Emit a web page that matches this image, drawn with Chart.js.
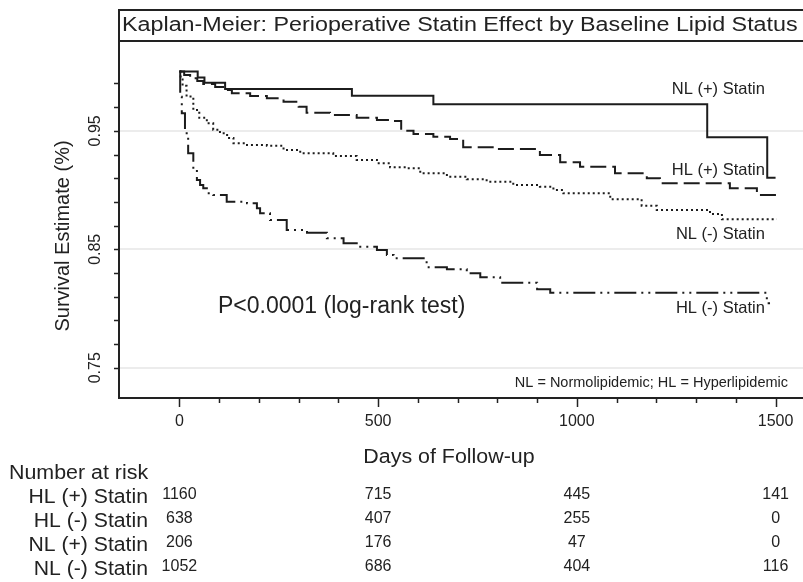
<!DOCTYPE html>
<html>
<head>
<meta charset="utf-8">
<script src="https://cdn.jsdelivr.net/npm/chart.js@4.4.1/dist/chart.umd.min.js"></script>
<style>
  html, body { margin: 0; padding: 0; background: #fff; }
  canvas { display: block; }
</style>
</head>
<body>
<canvas id="kmChart" width="803" height="582"></canvas>
<script>
// survival curves (days, survival estimate)
var daysNLpos = [0, 46, 63, 115, 434, 639, 1328, 1479, 1500];
var survNLpos = [1.0, 0.9951, 0.9906, 0.9853, 0.9796, 0.9724, 0.9445, 0.9104, 0.9104];

var daysHLpos = [0, 12, 27, 45, 60, 90, 115, 132, 178, 220, 262, 300, 320, 379, 446, 497, 530, 558, 589, 639, 681, 714, 798, 907, 958, 1008, 1096, 1176, 1209, 1385, 1453, 1505];
var survHLpos = [1.0, 0.997, 0.9943, 0.992, 0.9895, 0.987, 0.9844, 0.9816, 0.9794, 0.9774, 0.9746, 0.9703, 0.9653, 0.9633, 0.9611, 0.9591, 0.9583, 0.9501, 0.9473, 0.9450, 0.9431, 0.9361, 0.9346, 0.9296, 0.9234, 0.9197, 0.9141, 0.9099, 0.9057, 0.9015, 0.8958, 0.8958];

var daysNLneg = [0, 3, 8, 18, 35, 50, 69, 85, 102, 120, 136, 170, 220, 262, 304, 387, 446, 497, 530, 572, 606, 673, 723, 773, 840, 907, 941, 966, 1084, 1163, 1201, 1335, 1365, 1503];
var survNLneg = [1.0, 0.995, 0.988, 0.979, 0.9676, 0.961, 0.9563, 0.951, 0.9479, 0.944, 0.9395, 0.938, 0.9374, 0.9338, 0.931, 0.9287, 0.9254, 0.9226, 0.9192, 0.9184, 0.9141, 0.9113, 0.9091, 0.9071, 0.9043, 0.9028, 0.9000, 0.8973, 0.8922, 0.8868, 0.8832, 0.8798, 0.8753, 0.8753];

var daysHLneg = [0, 2, 6, 14, 22, 35, 44, 52, 60, 69, 85, 119, 170, 195, 203, 228, 270, 321, 371, 413, 455, 497, 522, 539, 622, 673, 723, 757, 807, 900, 933, 1478, 1486];
var survHLneg = [1.0, 0.9788, 0.9648, 0.9479, 0.931, 0.9169, 0.9085, 0.9043, 0.9015, 0.8973, 0.8958, 0.8902, 0.8888, 0.8846, 0.8804, 0.8747, 0.8663, 0.864, 0.8593, 0.8551, 0.8522, 0.8494, 0.8452, 0.8424, 0.8348, 0.8331, 0.8297, 0.8264, 0.8218, 0.8163, 0.8134, 0.8044, 0.8044];

// axes
var xMajorTicks = [0, 500, 1000, 1500];
var xMinorTicks = [0, 100, 200, 300, 400, 500, 600, 700, 800, 900, 1000, 1100, 1200, 1300, 1400, 1500];
var yMajorTicks = [0.75, 0.85, 0.95];
var yMinorTicks = [0.75, 0.77, 0.79, 0.81, 0.83, 0.85, 0.87, 0.89, 0.91, 0.93, 0.95, 0.97, 0.99];

// number at risk table
var riskGroups = ['HL (+) Statin', 'HL (-) Statin', 'NL (+) Statin', 'NL (-) Statin'];
var riskTimes = [0, 500, 1000, 1500];
var riskHLpos = [1160, 715, 445, 141];
var riskHLneg = [638, 407, 255, 0];
var riskNLpos = [206, 176, 47, 0];
var riskNLneg = [1052, 686, 404, 116];

var FONT = '"Liberation Sans", Arial, Helvetica, sans-serif';
var INK = '#222';
var LINE = '#1c1c1c';

function toPoints(days, surv) {
  return days.map(function(d, i) { return { x: d, y: surv[i] }; });
}

// the original text is a little wider than Arial, so stretch it sideways
function wideText(ctx, text, x, y, stretch) {
  ctx.save();
  ctx.translate(x, y);
  ctx.scale(stretch, 1);
  ctx.fillText(text, 0, 0);
  ctx.restore();
}

var overlay = {
  id: 'overlay',
  afterDraw: function(chart) {
    var ctx = chart.ctx;
    var xs = chart.scales.x, ys = chart.scales.y;
    var area = chart.chartArea;
    ctx.save();
    ctx.fillStyle = INK;
    ctx.strokeStyle = INK;

    // title box
    ctx.lineWidth = 2;
    ctx.strokeRect(area.left, 10, 720, area.top - 10);
    ctx.font = '20px ' + FONT;
    ctx.textAlign = 'left';
    ctx.textBaseline = 'middle';
    wideText(ctx, 'Kaplan-Meier: Perioperative Statin Effect by Baseline Lipid Status', area.left + 3, 25, 1.165);

    // y tick marks and labels
    ctx.lineWidth = 1.5;
    yMinorTicks.forEach(function(v) {
      var y = Math.round(ys.getPixelForValue(v)) + 0.5;
      ctx.beginPath();
      ctx.moveTo(area.left - 5, y);
      ctx.lineTo(area.left, y);
      ctx.stroke();
    });
    ctx.font = '16px ' + FONT;
    ctx.textAlign = 'center';
    ctx.textBaseline = 'middle';
    yMajorTicks.forEach(function(v) {
      var y = ys.getPixelForValue(v);
      ctx.save();
      ctx.translate(96, y);
      ctx.rotate(-Math.PI / 2);
      ctx.fillText(v.toFixed(2), 0, 0);
      ctx.restore();
    });

    // y axis title
    ctx.save();
    ctx.font = '20px ' + FONT;
    ctx.translate(63, 236);
    ctx.rotate(-Math.PI / 2);
    ctx.fillText('Survival Estimate (%)', 0, 0);
    ctx.restore();

    // x tick marks and labels
    xMinorTicks.forEach(function(d) {
      var x = Math.round(xs.getPixelForValue(d)) + 0.5;
      var len = xMajorTicks.indexOf(d) >= 0 ? 9 : 5;
      ctx.beginPath();
      ctx.moveTo(x, area.bottom);
      ctx.lineTo(x, area.bottom + len);
      ctx.stroke();
    });
    ctx.font = '16px ' + FONT;
    xMajorTicks.forEach(function(d) {
      ctx.fillText(String(d), xs.getPixelForValue(d), 422);
    });

    // x axis title
    ctx.font = '20px ' + FONT;
    wideText(ctx, 'Days of Follow-up', 449, 457, 1.07);

    // curve labels
    ctx.font = '16.5px ' + FONT;
    ctx.textAlign = 'right';
    ctx.fillText('NL (+) Statin', xs.getPixelForValue(1473), ys.getPixelForValue(0.985));
    ctx.fillText('HL (+) Statin', xs.getPixelForValue(1473), ys.getPixelForValue(0.9169));
    ctx.fillText('NL (-) Statin', xs.getPixelForValue(1473), ys.getPixelForValue(0.8629));
    ctx.fillText('HL (-) Statin', xs.getPixelForValue(1473), ys.getPixelForValue(0.8002));

    // footnote
    ctx.font = '14.5px ' + FONT;
    ctx.fillText('NL = Normolipidemic; HL = Hyperlipidemic', 788, 383);

    // p value
    ctx.font = '23px ' + FONT;
    ctx.textAlign = 'left';
    ctx.fillText('P<0.0001 (log-rank test)', 218, 307);

    // number at risk
    ctx.font = '20px ' + FONT;
    wideText(ctx, 'Number at risk', 9, 473, 1.07);
    var rowY = [497, 521, 545, 569];
    var rows = [riskHLpos, riskHLneg, riskNLpos, riskNLneg];
    ctx.textAlign = 'right';
    riskGroups.forEach(function(g, i) {
      wideText(ctx, g, 148, rowY[i], 1.06);
    });
    ctx.font = '16px ' + FONT;
    ctx.textAlign = 'center';
    rows.forEach(function(vals, i) {
      vals.forEach(function(n, j) {
        ctx.fillText(String(n), xs.getPixelForValue(riskTimes[j]), rowY[i] - 2);
      });
    });
    ctx.restore();
  }
};

function curve(label, days, surv, dash) {
  return {
    label: label,
    data: toPoints(days, surv),
    borderColor: LINE,
    backgroundColor: LINE,
    borderWidth: 2,
    borderDash: dash,
    stepped: true,
    pointRadius: 0,
    fill: false
  };
}

new Chart(document.getElementById('kmChart').getContext('2d'), {
  type: 'line',
  data: {
    datasets: [
      curve('NL (+) Statin', daysNLpos, survNLpos, []),
      curve('HL (+) Statin', daysHLpos, survHLpos, [16, 6]),
      curve('NL (-) Statin', daysNLneg, survNLneg, [2, 3]),
      curve('HL (-) Statin', daysHLneg, survHLneg, [22, 5, 2, 5, 2, 5])
    ]
  },
  options: {
    responsive: false,
    animation: false,
    devicePixelRatio: 1,
    layout: { padding: { top: 41, left: 0, right: 0, bottom: 0 } },
    plugins: {
      legend: { display: false },
      tooltip: { enabled: false },
      title: { display: false },
      colors: { enabled: false }
    },
    scales: {
      x: {
        type: 'linear',
        min: -152,
        max: 1569,
        ticks: { display: false },
        grid: { display: false, drawTicks: false },
        border: { display: true, color: INK, width: 2 },
        afterFit: function(s) { s.height = 184; }
      },
      y: {
        min: 0.7245,
        max: 1.0258,
        ticks: { display: false },
        afterBuildTicks: function(s) {
          s.ticks = yMajorTicks.map(function(v) { return { value: v }; });
        },
        grid: { color: '#ececec', lineWidth: 2, drawTicks: false },
        border: { display: true, color: INK, width: 2 },
        afterFit: function(s) { s.width = 119; }
      }
    }
  },
  plugins: [overlay]
});
</script>
</body>
</html>
